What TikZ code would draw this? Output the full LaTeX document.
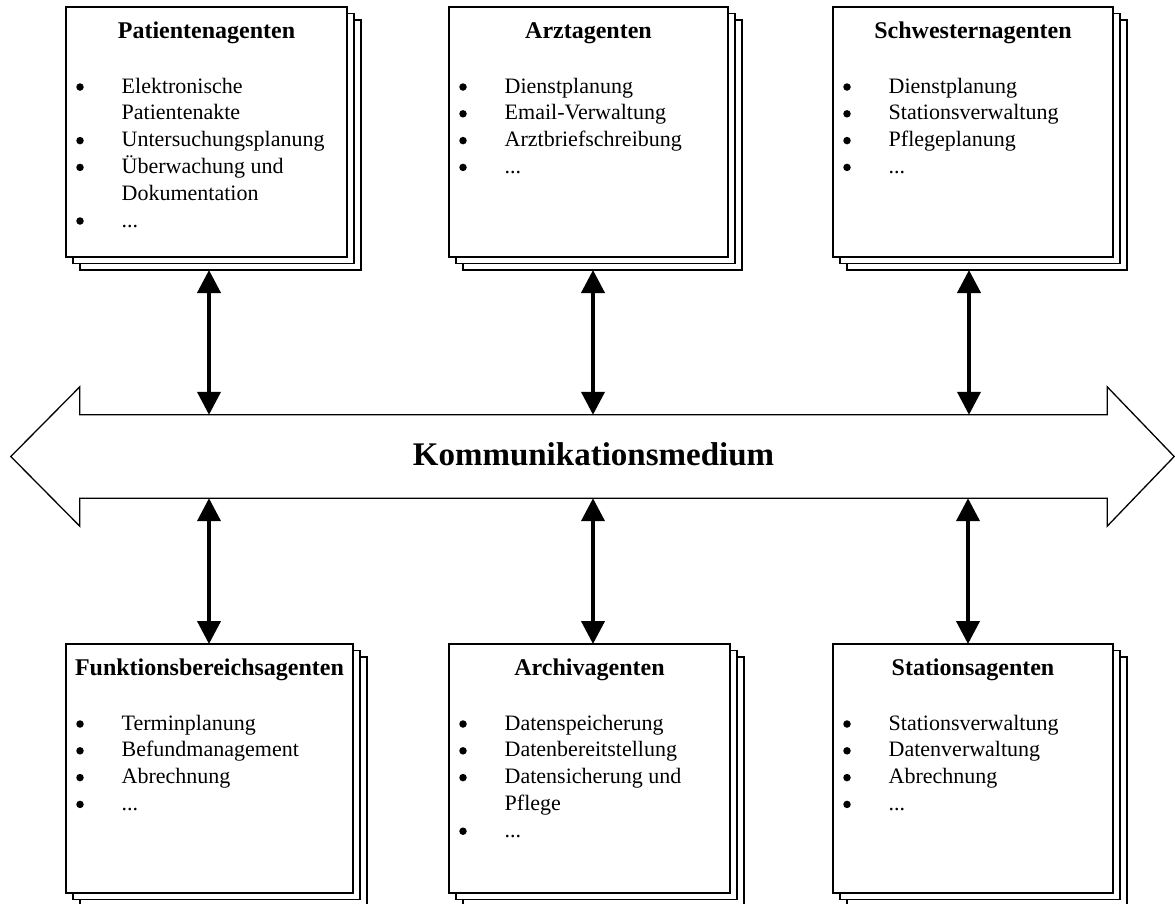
\documentclass[tikz,border=0pt]{standalone}
\usepackage{fontspec}
\setmainfont{Liberation Serif}
\usetikzlibrary{arrows.meta,calc,shadows}
\newcommand{\agentitem}[4]{%
  \ifnum#3=1 \node[bulletmark] (#1-b#2) at ($(#1.north west)+(14,{80+26.8*#2})$) {};\fi
  \node[itemtext] (#1-t#2) at ($(#1.north west)+(55.5,{86+26.8*#2})$) {#4};}
\newcommand{\agenttitle}[2]{%
  \node[titletext] (#1-title) at ($(#1.north)+(0,31)$) {#2};}
\begin{document}
\begin{tikzpicture}[x=1pt,y=-1pt,
  stackbox/.style={draw, fill=white, line width=1.3pt, inner sep=0pt, outer sep=0pt, anchor=north west,
    general shadow={shadow xshift=14pt, shadow yshift=-13pt, draw, fill=white, line width=1.3pt},
    general shadow={shadow xshift=7pt, shadow yshift=-6.5pt, draw, fill=white, line width=1.3pt}},
  titletext/.style={anchor=base, inner sep=0pt, font=\fontsize{24}{28}\selectfont\bfseries},
  itemtext/.style={anchor=base west, inner sep=0pt, font=\fontsize{22}{26}\selectfont},
  bulletmark/.style={circle, fill=black, inner sep=0pt, minimum size=7.5pt},
  outline/.style={draw, line width=1.3pt, line join=miter},
  dbl/.style={line width=4pt, {Triangle[width=23pt,length=23pt]}-{Triangle[width=23pt,length=23pt]}}
]
\useasboundingbox (0,0) rectangle (1175,903);

% communication medium
\node[minimum width=1027pt, minimum height=83pt, inner sep=0pt] (km) at (593.5,456.5) {};
\draw[outline] (km.north west) -- (km.north east) -- ($(km.north east)+(0,-28)$) -- ($(km.east)+(67,0)$)
  -- ($(km.south east)+(0,28)$) -- (km.south east) -- (km.south west) -- ($(km.south west)+(0,28)$)
  -- ($(km.west)+(-69,0)$) -- ($(km.north west)+(0,-28)$) -- cycle;
\node[inner sep=0pt, anchor=base, font=\fontsize{33}{38}\selectfont\bfseries] (kmtext) at (593.5,465) {Kommunikationsmedium};

% top row
\node[stackbox, minimum width=281pt, minimum height=250pt] (pa) at (66,7) {};
\node[stackbox, minimum width=279pt, minimum height=250pt] (aa) at (449,7) {};
\node[stackbox, minimum width=280pt, minimum height=250pt] (sa) at (833,7) {};
% bottom row
\node[stackbox, minimum width=287pt, minimum height=249pt] (fa) at (66,644) {};
\node[stackbox, minimum width=281pt, minimum height=249pt] (ar) at (449,644) {};
\node[stackbox, minimum width=280pt, minimum height=249pt] (st) at (833,644) {};

\agenttitle{pa}{Patientenagenten}
\agentitem{pa}{0}{1}{Elektronische}
\agentitem{pa}{1}{0}{Patientenakte}
\agentitem{pa}{2}{1}{Untersuchungsplanung}
\agentitem{pa}{3}{1}{Überwachung und}
\agentitem{pa}{4}{0}{Dokumentation}
\agentitem{pa}{5}{1}{...}

\agenttitle{aa}{Arztagenten}
\agentitem{aa}{0}{1}{Dienstplanung}
\agentitem{aa}{1}{1}{Email-Verwaltung}
\agentitem{aa}{2}{1}{Arztbriefschreibung}
\agentitem{aa}{3}{1}{...}

\agenttitle{sa}{Schwesternagenten}
\agentitem{sa}{0}{1}{Dienstplanung}
\agentitem{sa}{1}{1}{Stationsverwaltung}
\agentitem{sa}{2}{1}{Pflegeplanung}
\agentitem{sa}{3}{1}{...}

\agenttitle{fa}{Funktionsbereichsagenten}
\agentitem{fa}{0}{1}{Terminplanung}
\agentitem{fa}{1}{1}{Befundmanagement}
\agentitem{fa}{2}{1}{Abrechnung}
\agentitem{fa}{3}{1}{...}

\agenttitle{ar}{Archivagenten}
\agentitem{ar}{0}{1}{Datenspeicherung}
\agentitem{ar}{1}{1}{Datenbereitstellung}
\agentitem{ar}{2}{1}{Datensicherung und}
\agentitem{ar}{3}{0}{Pflege}
\agentitem{ar}{4}{1}{...}

\agenttitle{st}{Stationsagenten}
\agentitem{st}{0}{1}{Stationsverwaltung}
\agentitem{st}{1}{1}{Datenverwaltung}
\agentitem{st}{2}{1}{Abrechnung}
\agentitem{st}{3}{1}{...}

% connectors
\draw[dbl] ($(pa.south)+(2.5,13)$) -- ($(pa.south |- km.north)+(2.5,0)$);
\draw[dbl] ($(aa.south)+(4.5,13)$) -- ($(aa.south |- km.north)+(4.5,0)$);
\draw[dbl] ($(sa.south)+(-4,13)$) -- ($(sa.south |- km.north)+(-4,0)$);
\draw[dbl] ($(fa.north |- km.south)+(-0.5,0)$) -- ($(fa.north)+(-0.5,0)$);
\draw[dbl] ($(ar.north |- km.south)+(3.5,0)$) -- ($(ar.north)+(3.5,0)$);
\draw[dbl] ($(st.north |- km.south)+(-5,0)$) -- ($(st.north)+(-5,0)$);
\end{tikzpicture}
\end{document}
